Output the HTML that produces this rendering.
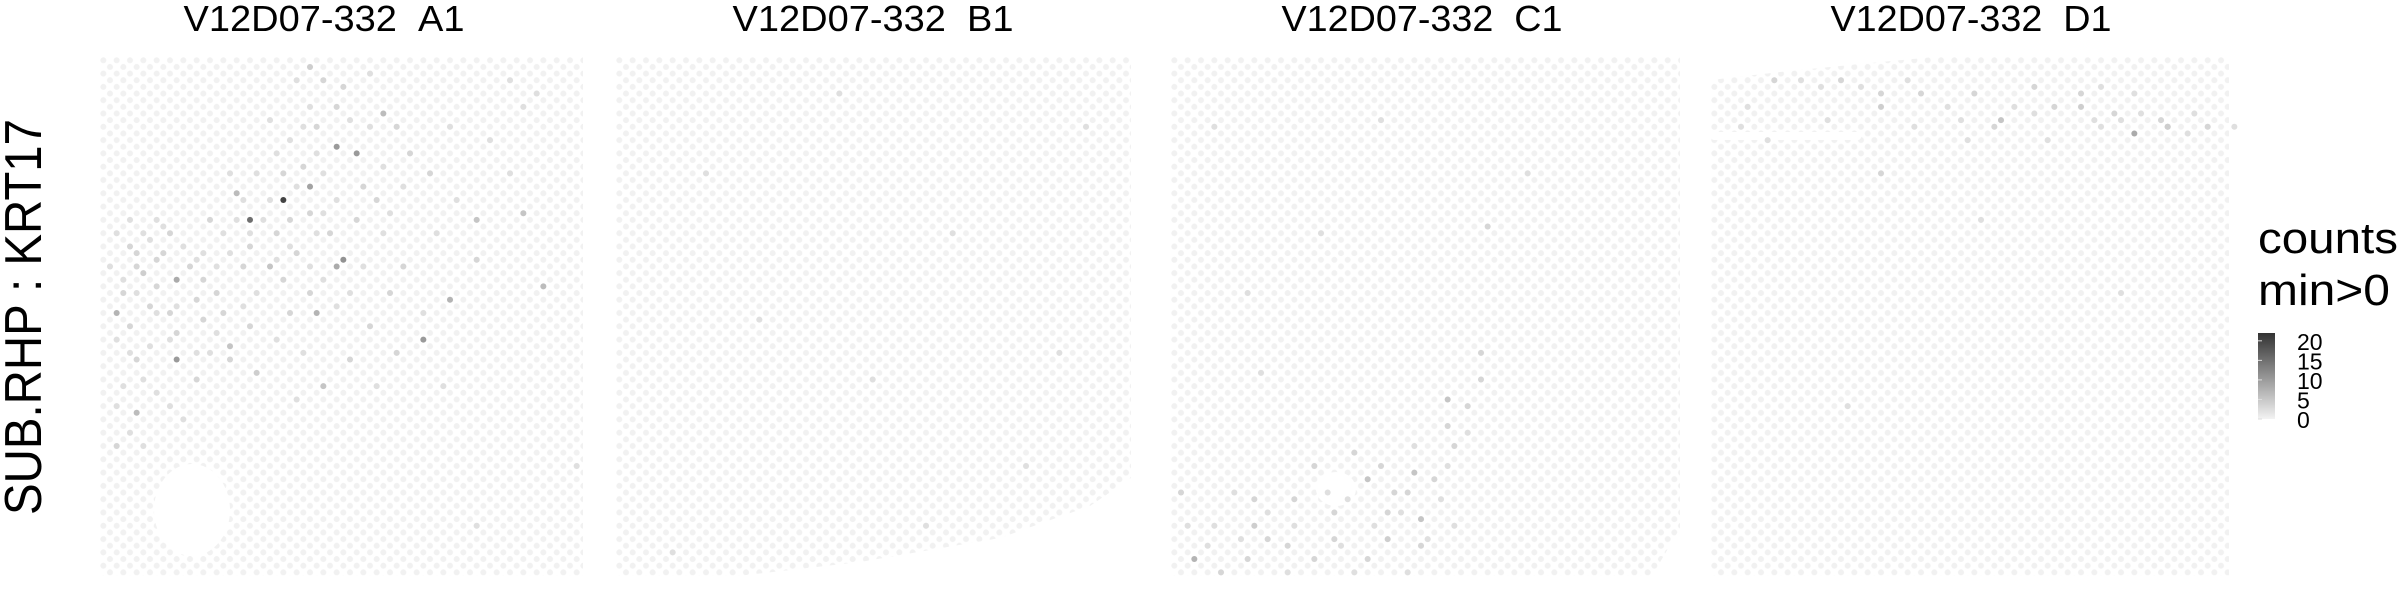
<!DOCTYPE html>
<html><head><meta charset="utf-8">
<style>
html,body{margin:0;padding:0;background:#fff;}
svg{display:block;}
text{font-family:"Liberation Sans",sans-serif;fill:#000;}
</style></head>
<body>
<svg id="chart" width="2400" height="600" viewBox="0 0 2400 600" xmlns="http://www.w3.org/2000/svg">
<defs id="defs"></defs>
<g id="panels"></g>
<text transform="translate(41,317) rotate(-90)" text-anchor="middle" font-size="52" textLength="396" lengthAdjust="spacingAndGlyphs">SUB.RHP : KRT17</text>
<g id="legend">
<text x="2258" y="253" font-size="44" textLength="140" lengthAdjust="spacingAndGlyphs">counts</text>
<text x="2258" y="305" font-size="44" textLength="132" lengthAdjust="spacingAndGlyphs">min&gt;0</text>
</g>
</svg>
<script>
// ---- data ----
const panelNames = ["V12D07-332\u00a0\u00a0A1","V12D07-332\u00a0\u00a0B1","V12D07-332\u00a0\u00a0C1","V12D07-332\u00a0\u00a0D1"];
const legendTicks = [0,5,10,15,20];
const countMax = 22;
// spots: [col,row,count]
const spotsA1 = [[27,24,20],[22,27,15],[35,15,10],[38,16,10],[31,22,9],[36,34,11],[35,35,8],[11,38,8],[10,52,10],[1,43,7],[48,48,10],[52,41,7],[32,44,7],[42,9,6],[20,23,6],[5,61,6],[62,26,5],[65,39,6],[55,28,5],[24,35,5],[18,49,5],[33,56,5],[23,54,4],[2,67,3],[30,1,4],
[3,32,3],[5,33,3],[7,34,3],[9,33,3],[4,36,3],[6,37,4],[8,39,3],[2,40,3],[12,36,3],[14,38,3],[16,40,3],[13,41,3],[6,42,3],[9,44,3],[4,46,3],[11,47,3],[15,45,3],[18,43,3],[20,36,3],[22,32,3],[25,30,3],[28,28,3],[30,26,3],[26,20,3],[29,18,3],[32,12,3],[34,8,3],[36,5,3],[28,4,2],[33,3,3],[38,22,3],[40,24,3],[37,28,3],[33,30,3],[29,33,3],[26,38,3],[30,40,3],[27,44,3],[22,46,3],[19,52,3],[14,55,3],[8,57,2],[4,52,3],[2,56,2],[44,12,3],[46,16,3],[48,20,3],[50,30,2],[45,36,3],[42,40,3],[39,46,3],[44,50,3],[56,34,3],[60,20,2],[58,14,2],[63,8,2],[40,2,2],[24,10,2],[18,20,2],[15,28,3],[10,30,3],[8,28,2],[36,52,3],[29,58,2],[12,62,2],[6,66,2],[50,56,2],[70,70,2],[55,80,2],
[1,30,2],[3,28,2],[5,30,2],[7,31,2],[9,29,2],[11,32,2],[13,34,2],[15,33,2],[17,35,2],[19,33,2],[21,30,2],[23,28,2],[1,36,2],[3,38,2],[5,40,2],[7,44,2],[1,48,2],[3,50,2],[7,49,2],[9,48,2],[13,50,2],[17,47,2],[21,42,2],[23,40,2],[25,34,2],[27,32,2],[31,36,2],[33,38,2],[35,42,2],[37,40,2],[39,36,2],[41,30,2],[43,26,2],[45,22,2],[41,18,2],[39,12,2],[37,10,2],[31,8,2],[29,12,2],[27,14,2],[25,16,2],[23,20,2],[21,24,2],[19,27,2],[17,30,2],[31,16,2],[33,20,2],[35,24,2],[29,22,2],[25,24,2],[33,26,2],[31,30,2],[11,42,2],[15,50,2],[5,55,2],[1,60,2],[3,64,2],[9,60,2],[25,48,2],[29,50,2],[41,56,2],[47,44,2],[53,24,2],[51,12,2],[61,4,2],[65,6,2]];
const spotsB1 = [[33,6,2],[50,30,2],[20,45,2],[60,70,2],[8,85,2],[46,80,2],[70,12,2],[38,55,2],[12,20,2],[66,50,2]];
const spotsC1 = [[40,59,5],[35,71,5],[28,72,5],[37,79,5],[32,82,4],[47,29,3],[46,51,3],[12,80,4],[12,76,3],[16,84,3],[20,70,3],[31,78,3],[7,88,3],[40,63,3],[23,82,3],[32,75,3],[1,75,3],[2,86,7],
[26,68,3],[30,70,3],[34,74,3],[24,78,3],[18,76,3],[14,82,3],[10,86,3],[20,86,3],[28,86,3],[36,84,3],[38,72,3],[42,66,3],[44,60,3],[45,55,3],[6,80,2],[4,84,2],[8,74,2],[16,88,2],[26,88,2],[34,88,2],[42,80,2],[40,76,2],[12,54,2],[10,40,2],[22,30,2],[52,20,2],[6,12,2],[30,10,2],
[22,74,2],[26,76,2],[30,80,2],[34,78,2],[38,82,2],[18,80,2],[14,78,2],[10,82,2],[24,84,2],[36,66,2],[40,70,2],[44,64,2],[2,80,2]];
const spotsD1 = [[63,13,8],[43,10,5],[67,12,5],[68,11,4],[24,8,4],[54,8,4],[51,8,3],[59,9,3],[41,11,3],[31,6,3],[25,6,3],[19,3,3],[9,3,3],[47,5,3],[73,11,3],[24,19,3],[66,10,3],[39,6,3],[54,6,3],[4,8,2],
[12,4,2],[15,5,2],[21,5,2],[28,4,2],[34,8,2],[36,10,2],[45,8,2],[48,9,2],[56,10,2],[58,12,2],[61,10,2],[64,9,2],[70,13,2],[72,9,2],[57,5,2],[62,6,2],[3,12,2],[7,14,2],[17,10,2],[30,12,2],[38,14,2],[50,14,2],[77,12,2],[40,28,2],[60,40,2],[20,60,2]];

// ---- layout ----
const panels = [
 {x0:100,x1:583,title:324,spots:spotsA1},
 {x0:616,x1:1131,title:873,spots:spotsB1},
 {x0:1171,x1:1680,title:1422,spots:spotsC1},
 {x0:1711,x1:2229,title:1971,spots:spotsD1}
];
const y0=57,y1=576,hx=6.667,dy=6.65,r=3.0;
const NS="http://www.w3.org/2000/svg";
const defs=document.getElementById('defs');
const gP=document.getElementById('panels');
function mk(t,a){const e=document.createElementNS(NS,t);for(const k in a)e.setAttribute(k,a[k]);return e;}
function rowIdx(row){return Math.round(row*5.8/dy);}
function colX(p,c,row){const ri=rowIdx(row);return p.x0+3.33+hx*(c+((c+ri)%2));}
function rowY(row){return y0+3.3+rowIdx(row)*dy;}
function grayOf(v){const g=Math.round(240-(240-51)*Math.min(v,countMax)/countMax);return `rgb(${g},${g},${g})`;}

const masks=[
 [['ellipse',{cx:192,cy:510,rx:38,ry:46}]],
 [['polygon',{points:"616,600 720,578 860,562 1000,538 1090,506 1131,478 1131,600"}]],
 [['ellipse',{cx:1336,cy:489,rx:20,ry:17}],['polygon',{points:"1680,528 1680,600 1638,600"}]],
 [['polygon',{points:"1711,50 1711,80 1780,72 1860,64 1934,57 1934,50"}],['rect',{x:1711,y:132,width:150,height:8,rx:3}]]
];

panels.forEach((p,i)=>{
  const pat=mk('pattern',{id:'hex'+i,patternUnits:'userSpaceOnUse',width:hx*2,height:dy*2,patternTransform:`translate(${p.x0},${y0})`});
  pat.appendChild(mk('circle',{cx:3.33,cy:3.3,r:r,fill:'#f1f1f1'}));
  pat.appendChild(mk('circle',{cx:3.33+hx,cy:3.3+dy,r:r,fill:'#f1f1f1'}));
  defs.appendChild(pat);
  const g=mk('g',{});
  
  
  const bg=mk('rect',{x:p.x0,y:y0,width:p.x1-p.x0,height:y1-y0,fill:`url(#hex${i})`});
  
  
  g.appendChild(bg);
  masks[i].forEach(m=>{const e=mk(m[0],Object.assign({fill:'#fff'},m[1]));
    
    
    g.appendChild(e);});
  p.spots.forEach(s=>{
    const c=mk('circle',{cx:colX(p,s[0],s[1]),cy:rowY(s[1]),r:r,fill:grayOf(s[2])});
    
    
    g.appendChild(c);
  });
  const t=mk('text',{x:p.title,y:31,'font-size':36,'text-anchor':'middle',textLength:281,lengthAdjust:'spacingAndGlyphs'});
  
  
  t.textContent=panelNames[i];
  g.appendChild(t);
  gP.appendChild(g);
});

// legend colorbar
const lg=document.getElementById('legend');
const grad=mk('linearGradient',{id:'cbar',x1:0,y1:1,x2:0,y2:0});
grad.appendChild(mk('stop',{offset:'0','stop-color':'#f3f3f3'}));
grad.appendChild(mk('stop',{offset:'1','stop-color':'#333'}));
defs.appendChild(grad);
const cbY0=419,cbY1=333;
function legY(v){return cbY0-(cbY0-cbY1)*v/countMax;}
const bar=mk('rect',{x:2258,y:cbY1,width:17,height:cbY0-cbY1,fill:'url(#cbar)'});


lg.appendChild(bar);
legendTicks.forEach(v=>{
  const ln=mk('line',{x1:2258,x2:2262,y1:legY(v),y2:legY(v),stroke:'#ddd','stroke-width':1});
  
  
  lg.appendChild(ln);
  const t=mk('text',{x:2297,y:legY(v)+9,'font-size':23});
  
  
  t.textContent=v;
  lg.appendChild(t);
});
</script>
</body></html>
